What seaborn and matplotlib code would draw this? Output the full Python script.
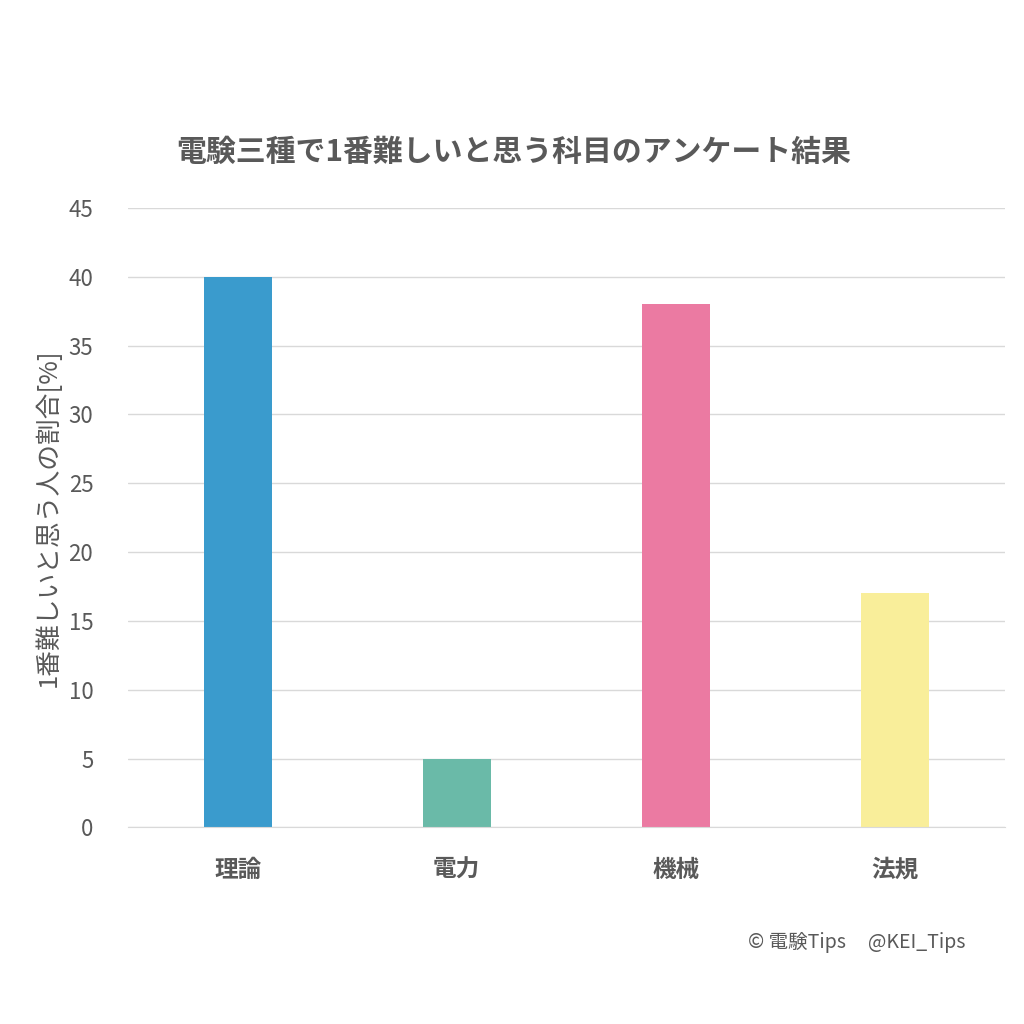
import matplotlib
matplotlib.use("Agg")
import matplotlib.pyplot as plt
import seaborn as sns
import pandas as pd

categories = ["理論", "電力", "機械", "法規"]
values = [40, 5, 38, 17]
colors = ["#3A9BCD", "#6ABAA8", "#EB7AA2", "#F9EE9A"]
yticks = [0, 5, 10, 15, 20, 25, 30, 35, 40, 45]

sns.set_style("white")
plt.rcParams['font.family'] = ['Noto Sans CJK JP', 'DejaVu Sans']
gray = "#595959"

df = pd.DataFrame({"cat": categories, "val": values})
fig = plt.figure(figsize=(10.24, 10.24), dpi=100)
ax = fig.add_axes([0.125, 0.192, 0.856, 0.605])
sns.barplot(data=df, x="cat", y="val", hue="cat", palette=colors, width=0.31,
            legend=False, ax=ax, saturation=1, linewidth=0)
ax.set_ylim(0, 45)
ax.set_xlim(-0.5, 3.5)
ax.set_yticks(yticks)
ax.yaxis.grid(True, color="#D9D9D9", linewidth=1)
ax.set_axisbelow(True)
for s in ["top", "right", "left"]:
    ax.spines[s].set_visible(False)
ax.spines["bottom"].set_color("#D9D9D9")
ax.tick_params(axis="y", length=0, labelsize=16, labelcolor=gray, pad=25)
ax.tick_params(axis="x", length=0, labelsize=17, labelcolor=gray, pad=22)
for t in ax.get_xticklabels():
    t.set_fontweight("bold")
ax.set_xlabel("")
ax.set_ylabel("1番難しいと思う人の割合[%]", fontsize=18.5, color=gray, labelpad=5)
fig.text(0.502, 1 - 152/1024, "電験三種で1番難しいと思う科目のアンケート結果",
         ha="center", va="center", fontsize=21.5, fontweight="bold", color=gray)
fig.text(965/1024, 1 - 942/1024, "© 電験Tips     @KEI_Tips", ha="right", va="center",
         fontsize=14, color=gray)
fig.savefig("out.png", dpi=100)
